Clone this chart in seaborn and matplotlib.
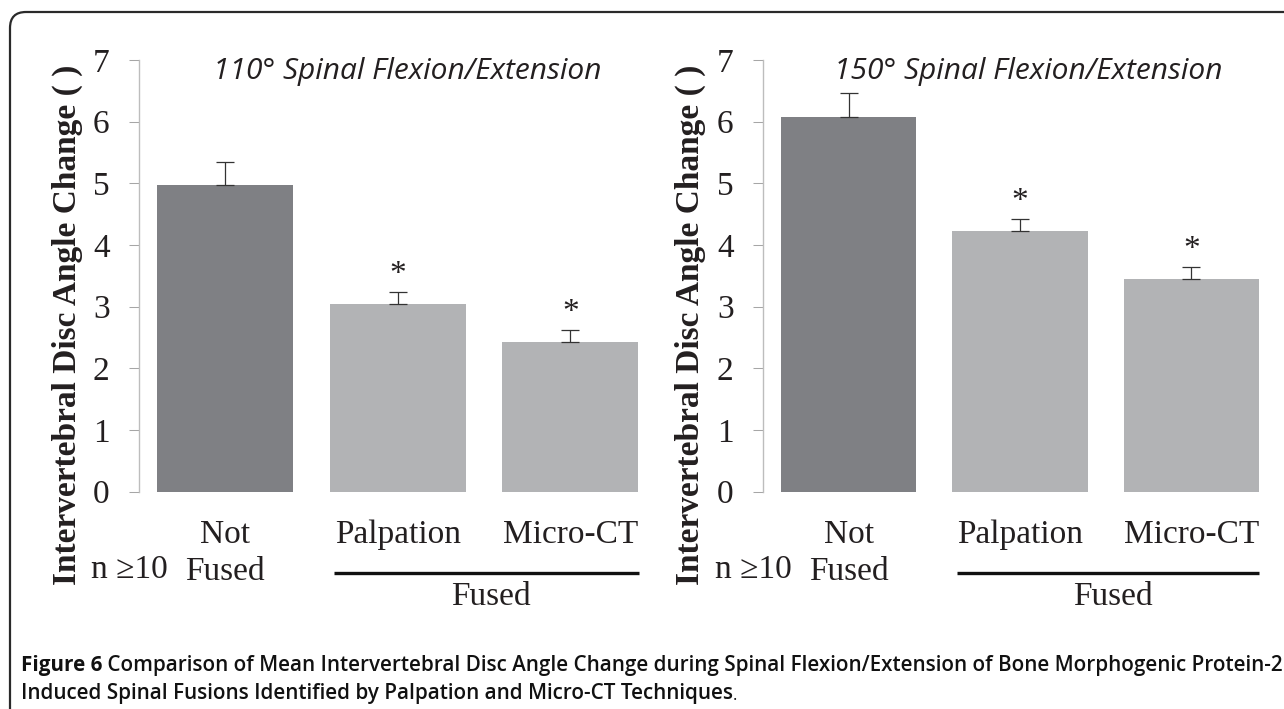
import numpy as np
import pandas as pd
import matplotlib
matplotlib.use("Agg")
import matplotlib.pyplot as plt
import seaborn as sns
from matplotlib.patches import FancyBboxPatch

# data
categories = ["Not Fused", "Palpation", "Micro-CT"]
tick_labels = ["Not\nFused", "Palpation", "Micro-CT"]
mean_110 = [4.97, 3.04, 2.42]
err_110 = [0.38, 0.19, 0.20]
mean_150 = [6.07, 4.22, 3.45]
err_150 = [0.39, 0.20, 0.19]
significant = [False, True, True]
titles = ["110° Spinal Flexion/Extension", "150° Spinal Flexion/Extension"]
ylabel = "Intervertebral Disc Angle Change ( )"
yticks = [0, 1, 2, 3, 4, 5, 6, 7]
n_label = "n ≥10"
group_label = "Fused"
caption_head = "Figure 6"
caption_line1 = (" Comparison of Mean Intervertebral Disc Angle Change during Spinal "
                 "Flexion/Extension of Bone Morphogenic Protein-2")
caption_line2 = "Induced Spinal Fusions Identified by Palpation and Micro-CT Techniques"

bar_colors = ["#7f8084", "#b2b3b5", "#b2b3b5"]
serif = ["Liberation Serif", "DejaVu Serif"]
ink = "#231f20"
fs = 24

sns.set_style("white")
plt.rcParams["font.family"] = serif

fig = plt.figure(figsize=(12.84, 7.09), dpi=100)
W, H = 1284, 709

# rounded frame, open to the right and bottom
frame = FancyBboxPatch((0.10, -0.5), 13.5, 6.97 + 0.5,
                       boxstyle="round,pad=0,rounding_size=0.16",
                       transform=fig.dpi_scale_trans, fill=False,
                       edgecolor="#2a2a2a", linewidth=1.6)
fig.patches.append(frame)

axL = fig.add_axes([139 / W, (H - 491.5) / H, 517.5 / W, 431.5 / H])
axR = fig.add_axes([763 / W, (H - 491.5) / H, 514 / W, 431.5 / H])


def draw_panel(ax, means, errs, title, title_x, ylabel_x):
    df = pd.DataFrame({"group": categories, "change": means})
    sns.barplot(data=df, x="group", y="change", hue="group", palette=bar_colors,
                saturation=1, width=0.79, errorbar=None, legend=False,
                linewidth=0, ax=ax)
    x = np.arange(len(categories))
    ax.errorbar(x, means, yerr=[np.zeros(len(means)), errs], fmt="none",
                ecolor="#333333", elinewidth=0.9, capsize=6.5, capthick=0.9)
    for i, (m, e, s) in enumerate(zip(means, errs, significant)):
        if s:
            ax.text(i, m + e + 0.28, "*", ha="center", va="center",
                    fontsize=fs, color=ink)

    ax.set_xlim(-0.5, 2.5)
    ax.set_ylim(0, 7)
    ax.set_yticks(yticks)
    ax.set_yticklabels([str(t) for t in yticks], fontsize=fs, color=ink)
    ax.set_xticks(x)
    ax.set_xticklabels(tick_labels, fontsize=fs, color=ink, linespacing=1.3)
    ax.tick_params(axis="x", length=0, pad=20)
    ax.tick_params(axis="y", length=7.2, width=0.75, color="#a6a6a6",
                   pad=14, left=True, direction="out")
    ax.set_xlabel("")
    ax.set_ylabel("")
    for side in ["top", "right", "bottom"]:
        ax.spines[side].set_visible(False)
    ax.spines["left"].set_color("#bdbdbd")
    ax.spines["left"].set_linewidth(1.0)
    ax.set_facecolor("none")

    # n label, grouping line and group label under the axis
    ax.annotate(n_label, xy=(-0.5, 0), xytext=(-10, -78.5),
                textcoords="offset pixels", ha="center", va="center",
                fontsize=fs, color=ink, annotation_clip=False)
    ax.plot([0.63, 2.397], [-1.32, -1.32], color="#111111", lw=2.4,
            clip_on=False, solid_capstyle="butt")
    ax.text(1.54, -1.71, group_label, ha="center", va="center", fontsize=fs,
            color=ink, clip_on=False)

    fig.text(title_x / W, 1 - 72 / H, title, ha="center", va="center",
             fontsize=21.5, style="italic", family=["Open Sans", "DejaVu Sans"],
             color=ink)
    fig.text(ylabel_x / W, 1 - 325 / H, ylabel, rotation=90, ha="center",
             va="center", fontsize=24, fontweight="bold", color=ink)


draw_panel(axL, mean_110, err_110, titles[0], 407, 67)
draw_panel(axR, mean_150, err_150, titles[1], 1028, 690)

sans = ["Open Sans", "DejaVu Sans"]
cap_fs = 14.85
head = fig.text(21 / W, 1 - 666 / H, caption_head, ha="left", va="center",
                fontsize=cap_fs, fontweight="bold", family=sans, color="#111111")
axL.annotate(caption_line1, xy=(1, 0), xycoords=head, ha="left", va="bottom",
             fontsize=cap_fs, fontweight="semibold", family=sans,
             color="#111111", annotation_clip=False)
line2 = fig.text(21 / W, 1 - 693 / H, caption_line2, ha="left", va="center",
                 fontsize=cap_fs, fontweight="semibold", family=sans,
                 color="#111111")
axL.annotate(".", xy=(1, 0), xycoords=line2, ha="left", va="bottom",
             fontsize=cap_fs - 3, family=sans, color="#111111",
             annotation_clip=False)

fig.savefig("out.png", dpi=100)
